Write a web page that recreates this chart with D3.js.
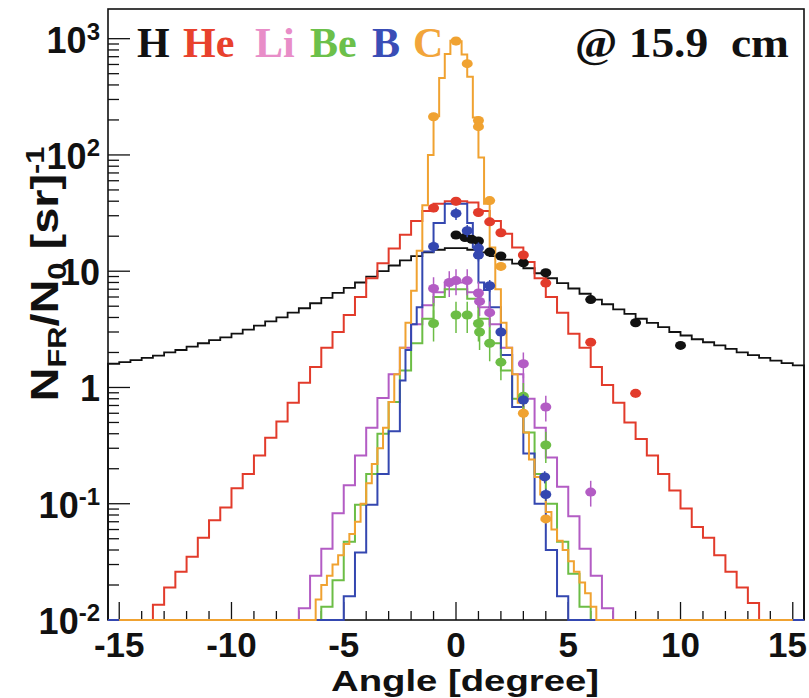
<!DOCTYPE html>
<html><head><meta charset="utf-8">
<script src="https://cdn.jsdelivr.net/npm/d3@7"></script>
<style>body{margin:0;background:#fff}</style>
</head><body>
<svg id="c" width="809" height="698"></svg>
<script>
// ---------------- DATA ----------------
const species = ["H", "He", "Li", "Be", "B", "C"];
const fullRange = [-15.5, 15.5];
const cRange = [-15, 15];

// Histograms (MC). H, He: 0.5 deg bins from -15.5
const hStart = -15.5, hWidth = 0.5;
const hValues = [1.6, 1.65, 1.72, 1.8, 1.88, 2.0, 2.1, 2.25, 2.4, 2.55, 2.7, 2.9, 3.15, 3.4, 3.7, 4.0, 4.4, 4.8, 5.3, 5.9, 6.5, 7.2, 8.0, 9.0, 10.0, 11.2, 12.4, 13.5, 14.5, 15.3, 15.8,
  15.8, 15.3, 14.5, 13.5, 12.6, 11.6, 10.6, 9.6, 8.7, 7.9, 7.1, 6.4, 5.7, 5.2, 4.7, 4.3, 3.9, 3.6, 3.3, 3.0, 2.8, 2.6, 2.45, 2.3, 2.15, 2.0, 1.9, 1.8, 1.7, 1.62, 1.55];
const heStart = -15.5, heWidth = 0.5;
const heValues = [0, 0, 0, 0, 0.0135, 0.019, 0.026, 0.035, 0.051, 0.072, 0.093, 0.136, 0.18, 0.26, 0.37, 0.51, 0.74, 1.1, 1.5, 2.2, 3.0, 4.2, 6.0, 8.7, 11.7, 15.7, 20.6, 27, 33, 38, 40,
  40, 39, 33, 27, 21, 16, 12, 8.7, 6.0, 4.4, 2.9, 2.2, 1.5, 1.05, 0.74, 0.5, 0.36, 0.26, 0.18, 0.13, 0.091, 0.063, 0.051, 0.036, 0.026, 0.019, 0.014, 0, 0, 0, 0];
// Li, Be: 0.5 deg bins from -7.5
const liStart = -7.5, liWidth = 0.5;
const liValues = [0, 0.0126, 0.024, 0.041, 0.083, 0.144, 0.26, 0.45, 0.81, 1.3, 2.2, 3.5, 5.1, 6.6, 8.0,
  8.0, 6.6, 4.9, 3.5, 2.2, 1.3, 0.8, 0.45, 0.25, 0.14, 0.078, 0.041, 0.024, 0.0126, 0];
const beStart = -7.5, beWidth = 0.5;
const beValues = [0, 0, 0, 0.013, 0.022, 0.047, 0.098, 0.18, 0.4, 0.75, 1.4, 2.4, 3.9, 6.0, 7.0,
  7.0, 5.8, 3.9, 2.4, 1.4, 0.8, 0.41, 0.18, 0.1, 0.047, 0.025, 0.013, 0, 0, 0];
// B: 0.25 deg bins from -5.5
const bStart = -5.5, bWidth = 0.25;
const bValues = [0, 0, 0.016, 0.016, 0.038, 0.038, 0.098, 0.098, 0.18, 0.18, 0.42, 0.42, 1.15, 2.1, 3.5, 4.9, 14.8, 14.8, 26, 26, 38, 38,
  38, 38, 26, 16, 8, 6.9, 4.9, 4.9, 1.9, 1.9, 0.68, 0.68, 0.27, 0.27, 0.1, 0.1, 0.04, 0.04, 0.016, 0.016, 0, 0];
// C: 0.25 deg bins from -6.5
const cStart = -6.5, cWidth = 0.25;
const cValues = [0, 0.015, 0.02, 0.024, 0.03, 0.036, 0.045, 0.055, 0.07, 0.1, 0.15, 0.22, 0.3, 0.45, 0.75, 1.3, 2.2, 3.6, 6.8, 15, 37, 100, 215, 460, 740, 960,
  950, 730, 470, 210, 95, 38, 16, 7, 3.6, 2.2, 1.3, 0.74, 0.41, 0.24, 0.17, 0.12, 0.085, 0.06, 0.048, 0.04, 0.032, 0.026, 0.021, 0.017, 0.013, 0];

// Measured points
const hPtX = [0, 0.4, 0.7, 1.0, 1.5, 2.0, 3.0, 4.0, 6.0, 8.0, 10.0];
const hPtY = [20.5, 19.5, 18.8, 18.2, 14.6, 13.5, 11.8, 9.7, 5.7, 3.6, 2.3];
const hePtX = [-1.0, 0, 1.0, 1.5, 2.0, 3.0, 4.0, 6.0, 8.0];
const hePtY = [35, 40, 32, 26.6, 21.4, 13.8, 7.9, 2.45, 0.89];
const liPtX = [-1.0, -0.3, 0, 0.5, 1.0, 1.05, 1.5, 3.0, 4.0, 6.0];
const liPtY = [7.1, 8.0, 8.3, 8.3, 6.5, 5.5, 4.4, 1.6, 0.68, 0.126];
const bePtX = [-1.0, 0, 0.5, 1.0, 1.05, 1.5, 2.0, 3.0, 4.0];
const bePtY = [3.55, 4.2, 4.2, 3.55, 3.0, 2.4, 1.65, 0.84, 0.32];
const bPtX = [-1.0, 0, 0.5, 1.0, 1.0, 1.5, 2.0, 3.0, 3.95, 4.0];
const bPtY = [16.3, 31.4, 22.3, 15.8, 13.8, 7.5, 3.0, 0.78, 0.17, 0.12];
const cPtX = [-1.0, 0, 0.5, 1.0, 1.0, 1.5, 2.0, 3.0, 4.0];
const cPtY = [213, 955, 610, 198, 175, 40.5, 11, 0.6, 0.074];
const relErr = [0.04, 0.08, 0.25, 0.3, 0.12, 0.08];

const xTicks = [-15, -10, -5, 0, 5, 10, 15];
const yDecades = [-2, -1, 0, 1, 2, 3];
const legendText = "@ 15.9  cm";
const xTitle = "Angle [degree]";

// ---------------- DRAW ----------------
const lineColors = {H: "#111111", He: "#e23b2b", Li: "#b35cc4", Be: "#6cbd45", B: "#3447b0", C: "#f0a231"};
const legendColors = {H: "#111111", He: "#e8412d", Li: "#e88dc8", Be: "#6cc04a", B: "#3a4db6", C: "#f2a53a"};

const svg = d3.select("#c");
const L = 108, R = 804, T = 9, B = 620;
const x = d3.scaleLinear().domain(fullRange).range([L, R]);
const y = d3.scaleLog().domain([0.01, 1800]).range([B, T]);
const cl = v => Math.max(v, 0.01);

svg.append("rect").attr("x", 0).attr("y", 0).attr("width", 809).attr("height", 698).attr("fill", "#fff");

function stepPts(start, width, vals, range) {
  const pts = [[range[0], 0.01], [start, 0.01]];
  vals.forEach((v, i) => {
    const a = start + i * width, b = a + width;
    pts.push([a, cl(v)], [b, cl(v)]);
  });
  const end = start + vals.length * width;
  pts.push([end, 0.01], [range[1], 0.01]);
  return pts;
}
const line = d3.line().x(d => x(d[0])).y(d => y(d[1]));

// frame
svg.append("rect").attr("x", L).attr("y", T).attr("width", R - L).attr("height", B - T)
  .attr("fill", "none").attr("stroke", "#111").attr("stroke-width", 1.6);

// ticks
const tk = svg.append("g").attr("stroke", "#111").attr("stroke-width", 1.3);
for (let xv = -15; xv <= 15; xv++) {
  const major = xv % 5 === 0;
  tk.append("line").attr("x1", x(xv)).attr("x2", x(xv)).attr("y1", B).attr("y2", B - (major ? 18 : 9));
}
for (let e = -2; e <= 3; e++) {
  for (let m = 1; m <= 9; m++) {
    const v = m * Math.pow(10, e);
    if (v > 1800) continue;
    const major = m === 1;
    tk.append("line").attr("x1", L).attr("x2", L + (major ? 22 : 11)).attr("y1", y(v)).attr("y2", y(v));
  }
}

// histograms
const hists = [
  ["H", hStart, hWidth, hValues, fullRange],
  ["He", heStart, heWidth, heValues, fullRange],
  ["Li", liStart, liWidth, liValues, fullRange],
  ["Be", beStart, beWidth, beValues, fullRange],
  ["B", bStart, bWidth, bValues, fullRange],
  ["C", cStart, cWidth, cValues, cRange]
];
hists.forEach(([name, s, w, v, r]) => {
  svg.append("path").attr("d", line(stepPts(s, w, v, r)))
    .attr("fill", "none").attr("stroke", lineColors[name])
    .attr("stroke-width", name === "H" ? 1.8 : 2).attr("stroke-linejoin", "miter");
});

// points
const pts = [[hPtX, hPtY], [hePtX, hePtY], [liPtX, liPtY], [bePtX, bePtY], [bPtX, bPtY], [cPtX, cPtY]];
pts.forEach(([xs, ys], k) => {
  const col = lineColors[species[k]];
  const g = svg.append("g");
  xs.forEach((xv, i) => {
    const v = ys[i], e = relErr[k];
    g.append("line").attr("x1", x(xv)).attr("x2", x(xv)).attr("y1", y(v * (1 - e))).attr("y2", y(v * (1 + e)))
      .attr("stroke", col).attr("stroke-width", 1.5);
    g.append("ellipse").attr("cx", x(xv)).attr("cy", y(v)).attr("rx", 5.5).attr("ry", 4.5).attr("fill", col);
  });
});

// tick labels
const sans = "'Liberation Sans', Arial, Helvetica, sans-serif";
xTicks.forEach(t => {
  const lab = svg.append("text").attr("x", x(t)).attr("y", 656.5).attr("text-anchor", "middle")
    .attr("font-family", sans).attr("font-weight", "bold").attr("font-size", 35).attr("fill", "#111").text(String(t));
  const w = lab.node().getComputedTextLength();
  if (x(t) + w / 2 > 807) lab.attr("x", 807 - w / 2);
});
yDecades.forEach(e => {
  const tx = svg.append("text").attr("x", 100).attr("y", y(Math.pow(10, e)) + 14).attr("text-anchor", "end")
    .attr("font-family", sans).attr("font-weight", "bold").attr("font-size", 36).attr("fill", "#111");
  if (e === 0) tx.text("1");
  else if (e === 1) tx.text("10");
  else {
    tx.append("tspan").text("10");
    tx.append("tspan").attr("font-size", 24).attr("dy", -13).text(String(e));
  }
});

// axis titles
svg.append("text").attr("x", 465).attr("y", 691).attr("text-anchor", "middle")
  .attr("font-family", sans).attr("font-weight", "bold").attr("font-size", 30).attr("fill", "#111")
  .attr("textLength", 268).attr("lengthAdjust", "spacingAndGlyphs").text(xTitle);

const yt = svg.append("text").attr("transform", "translate(58,274) rotate(-90)").attr("text-anchor", "middle")
  .attr("font-family", sans).attr("font-weight", "bold").attr("font-size", 38).attr("fill", "#111")
  .attr("textLength", 255).attr("lengthAdjust", "spacingAndGlyphs");
yt.append("tspan").text("N");
yt.append("tspan").attr("font-size", 25).attr("dy", 8).text("FR");
yt.append("tspan").attr("dy", -8).text("/N");
yt.append("tspan").attr("font-size", 25).attr("dy", 8).text("0");
yt.append("tspan").attr("dy", -8).text(" [sr]");
yt.append("tspan").attr("font-size", 25).attr("dy", -14).text("-1");

// legend
const serif = "'Liberation Serif', 'Times New Roman', serif";
const legX = [137, 183, 255, 310, 372, 413];
species.forEach((s, i) => {
  svg.append("text").attr("x", legX[i]).attr("y", 57).attr("font-family", serif).attr("font-weight", "bold")
    .attr("font-size", 42).attr("fill", legendColors[s]).text(s);
});
svg.append("text").attr("x", 575).attr("y", 57).attr("font-family", serif).attr("font-weight", "bold")
  .attr("font-size", 42).attr("fill", "#111").attr("textLength", 214).attr("lengthAdjust", "spacingAndGlyphs")
  .attr("xml:space", "preserve").style("white-space", "pre").text(legendText);
</script>
</body></html>
